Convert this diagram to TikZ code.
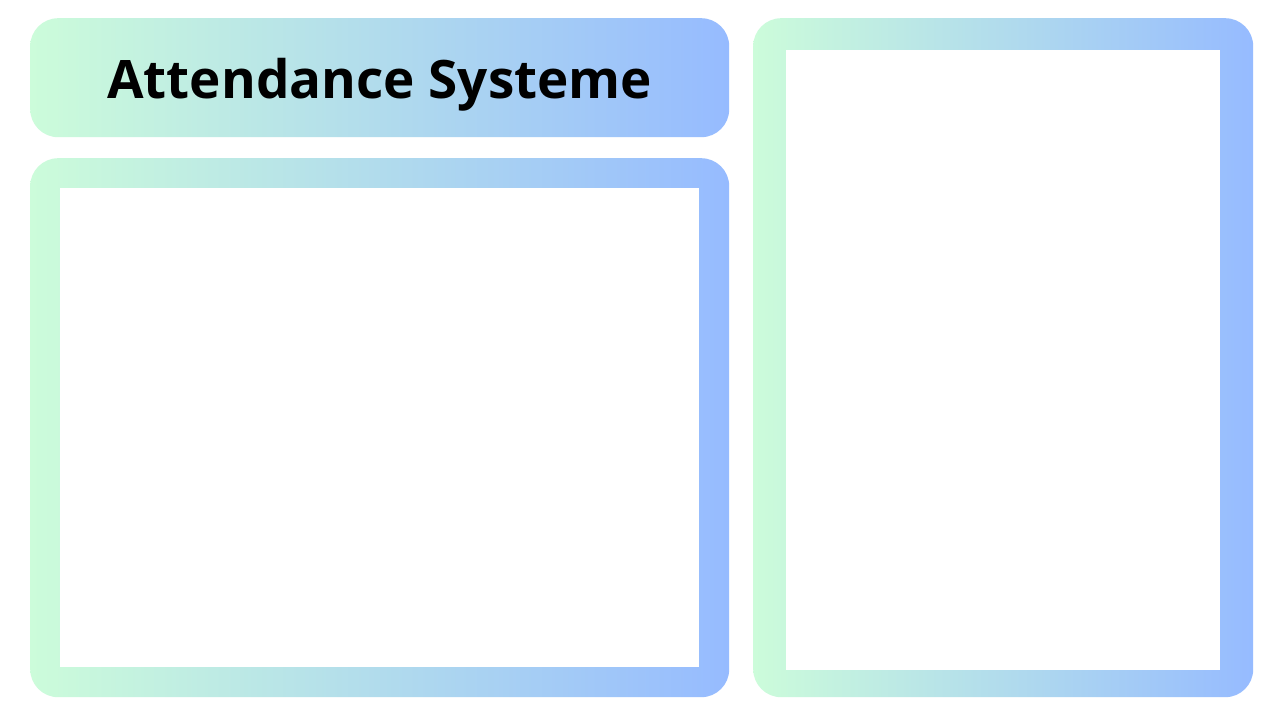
\documentclass[tikz,border=0pt]{standalone}
\usepackage{fontspec}
\setmainfont{Open Sans}
\definecolor{mint}{RGB}{204,252,218}
\definecolor{sky}{RGB}{150,187,255}
\begin{document}
\begin{tikzpicture}[x=1pt,y=-1pt,
    panel/.style={rounded corners=28pt,left color=mint,right color=sky,draw=none,inner sep=0pt,anchor=north west},
    screen/.style={fill=white,draw=none,inner sep=0pt}]
                \fill[white] (0,0) rectangle (1270,720);
                \useasboundingbox (0,0) rectangle (1270,720);
                % title
                \node[panel,minimum width=699pt,minimum height=119pt] (title) at (30,18) {};
                \node[anchor=base,inner sep=0pt,font=\fontsize{53}{64}\selectfont\bfseries] (titletext) at ([yshift=-21pt]title.center) {Attendance Systeme};
                % left panel
                \node[panel,minimum width=699pt,minimum height=539pt] (leftpanel) at (30,158) {};
                \node[screen,minimum width=639pt,minimum height=479pt] (leftscreen) at (leftpanel.center) {};
                % right panel
                \node[panel,minimum width=500pt,minimum height=679pt] (rightpanel) at (753,18) {};
                \node[screen,minimum width=434pt,minimum height=620pt] (rightscreen) at (1003,360) {};
            \end{tikzpicture}
\end{document}
